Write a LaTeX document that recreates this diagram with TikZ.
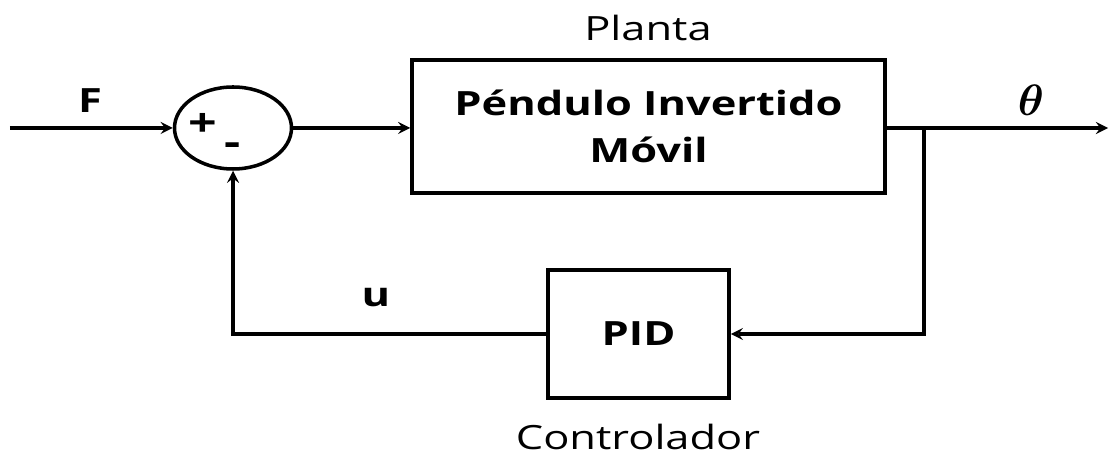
\documentclass[tikz,border=0pt]{standalone}
\usepackage{fix-cm}
\usepackage{bm}
\usepackage{fontspec}
\setmainfont{Open Sans}[FakeStretch=1.3]
\usetikzlibrary{shapes.geometric}
\begin{document}
\begin{tikzpicture}
        \tikzstyle{blk} = [draw, line width=2pt, rectangle, align=center, font=\fontsize{19}{27}\selectfont\bfseries]
        \tikzstyle{sumj} = [draw, line width=2pt, ellipse, minimum width=2.34cm, minimum height=1.64cm, inner sep=0pt]
        \tikzstyle{lbl} = [font=\fontsize{19}{22}\selectfont]
        \tikzstyle{blbl} = [font=\fontsize{19}{22}\selectfont\bfseries]
        \tikzstyle{sig} = [->, >=stealth, line width=2pt]
        \useasboundingbox (0,0) rectangle (22.2,-9.16);
        \node[sumj] (S) at (4.66,-2.56) {};
        \node[blbl, font=\fontsize{22}{24}\selectfont\bfseries] (plus) at (4.06,-2.50) {+};
        \node[blbl, font=\fontsize{22}{24}\selectfont\bfseries] (minus) at (4.66,-2.98) {-};
        \node[blk, minimum width=9.46cm, minimum height=2.66cm] (P) at (12.97,-2.53) {P\'endulo Invertido\\M\'ovil};
        \node[blk, minimum width=3.62cm, minimum height=2.56cm] (C) at (12.77,-6.68) {PID};
        \node[lbl] (planta) at (12.96,-0.56) {Planta};
        \node[lbl] (ctrl) at (12.76,-8.74) {Controlador};
        \node[blbl] (F) at (1.80,-2.02) {F};
        \node[blbl] (u) at (7.52,-5.96) {u};
        \node[font=\fontsize{25}{28}\selectfont\boldmath] (theta) at (20.62,-2.00) {$\bm{\theta}$};
        \coordinate (in) at (0.20,-2.56);
        \coordinate (out) at (22.16,-2.56);
        \coordinate (br) at (18.48,-2.56);
        \draw[sig] (in) -- (S);
        \draw[sig] (S) -- (S -| P.west);
        \draw[sig] (P.east |- S) -- (out);
        \draw[sig] (br) |- (C.east);
        \draw[sig] (C.west) -| (S.south);
      \end{tikzpicture}
\end{document}
